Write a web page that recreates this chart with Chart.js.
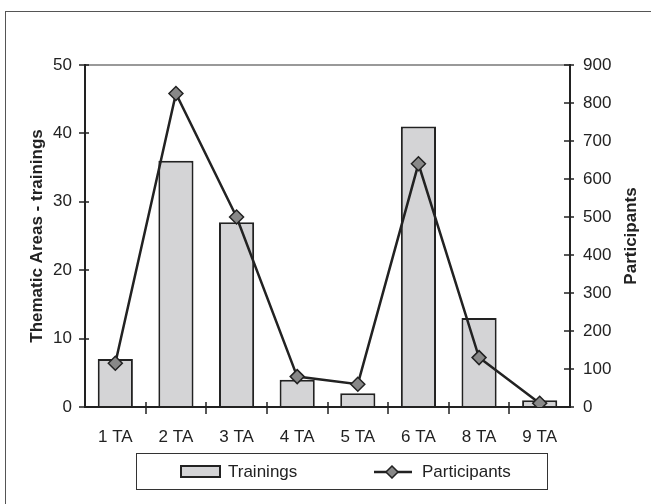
<!DOCTYPE html>
<html>
<head>
<meta charset="utf-8">
<script src="https://cdn.jsdelivr.net/npm/chart.js@4/dist/chart.umd.min.js"></script>
<style>
  html, body { margin: 0; padding: 0; background: #fff; overflow: hidden; }
  #wrap { position: relative; width: 651px; height: 504px; }
  #frame { position: absolute; left: 5px; top: 11px; width: 700px; height: 600px;
           border-left: 1.5px solid #555; border-top: 1.5px solid #555; }
  #c { position: absolute; left: 0; top: 0; }
  #legend { position: absolute; left: 136px; top: 453px; width: 410px; height: 35px;
            border: 1.5px solid #333; font-family: "Liberation Sans", Arial, sans-serif;
            font-size: 17px; color: #222; }
  #legend .item { position: absolute; top: 0; height: 35px; display: flex; align-items: center; }
  #legend .sw { display: inline-block; width: 37px; height: 9px; background: #d4d4d6;
                border: 2px solid #222; margin-right: 7px; }
</style>
</head>
<body>
<div id="wrap">
  <div id="frame"></div>
  <canvas id="c" width="651" height="504"></canvas>
  <div id="legend">
    <div class="item" style="left:43px"><span class="sw"></span>Trainings</div>
    <div class="item" style="left:236px">
      <svg width="40" height="14" style="margin-right:9px">
        <line x1="1" y1="7" x2="39" y2="7" stroke="#222" stroke-width="2.5"/>
        <polygon points="19,1 25,7 19,13 13,7" fill="#888" stroke="#222" stroke-width="1.5"/>
      </svg>Participants
    </div>
  </div>
</div>
<script>
// Thematic areas and their figures
const categories = ['1 TA', '2 TA', '3 TA', '4 TA', '5 TA', '6 TA', '8 TA', '9 TA'];
const trainings = [7, 36, 27, 4, 2, 41, 13, 1];
const participants = [115, 825, 500, 80, 60, 640, 130, 10];

const FONT = '"Liberation Sans", Arial, sans-serif';
const INK = '#222';

// Tick marks that straddle each axis line, plus the right-hand axis title
const axisExtras = {
  id: 'axisExtras',
  afterDraw(chart) {
    const ctx = chart.ctx;
    const { x, y, y1 } = chart.scales;
    ctx.save();
    ctx.strokeStyle = INK;
    ctx.lineWidth = 1.5;
    ctx.beginPath();
    y.ticks.forEach(t => {
      const py = Math.round(y.getPixelForValue(t.value));
      ctx.moveTo(x.left - 6, py); ctx.lineTo(x.left + 4, py);
    });
    y1.ticks.forEach(t => {
      const py = Math.round(y1.getPixelForValue(t.value));
      ctx.moveTo(x.right - 6, py); ctx.lineTo(x.right + 4, py);
    });
    for (let i = 0; i < categories.length - 1; i++) {
      const px = Math.round((x.getPixelForValue(i) + x.getPixelForValue(i + 1)) / 2);
      ctx.moveTo(px, y.bottom - 5); ctx.lineTo(px, y.bottom + 7);
    }
    ctx.stroke();

    // "Participants" reads bottom-to-top like the left title
    ctx.translate(y1.right - 20, (y1.top + y1.bottom) / 2);
    ctx.rotate(-Math.PI / 2);
    ctx.fillStyle = INK;
    ctx.font = 'bold 17px ' + FONT;
    ctx.textAlign = 'center';
    ctx.textBaseline = 'middle';
    ctx.fillText('Participants', 0, 0);
    ctx.restore();
  }
};

new Chart(document.getElementById('c'), {
  data: {
    labels: categories,
    datasets: [
      {
        type: 'line',
        label: 'Participants',
        data: participants,
        yAxisID: 'y1',
        borderColor: INK,
        borderWidth: 2.5,
        pointStyle: 'rectRot',
        pointRadius: 7,
        pointBackgroundColor: '#888',
        pointBorderColor: INK,
        pointBorderWidth: 1.5,
        tension: 0,
        order: 0
      },
      {
        type: 'bar',
        label: 'Trainings',
        data: trainings,
        yAxisID: 'y',
        backgroundColor: '#d4d4d6',
        borderColor: INK,
        borderWidth: 2,
        barPercentage: 0.58,
        categoryPercentage: 1,
        order: 1
      }
    ]
  },
  options: {
    responsive: false,
    animation: false,
    layout: { padding: { top: 65, left: 0, right: 0, bottom: 0 } },
    plugins: { legend: { display: false }, tooltip: { enabled: false } },
    scales: {
      x: {
        type: 'category',
        offset: true,
        grid: { display: false, offset: true },
        border: { display: true, color: INK, width: 2 },
        ticks: { color: INK, font: { family: FONT, size: 17 }, padding: 12, maxRotation: 0 },
        afterFit(s) { s.height = 97; }
      },
      y: {
        position: 'left',
        min: 0, max: 50,
        ticks: { stepSize: 10, color: INK, font: { family: FONT, size: 17 }, padding: 13 },
        grid: {
          drawTicks: false,
          color: c => (c.tick && c.tick.value === 50 ? '#999' : 'rgba(0,0,0,0)'),
          lineWidth: 2
        },
        border: { display: true, color: INK, width: 2 },
        title: {
          display: true, text: 'Thematic Areas - trainings', color: INK,
          font: { family: FONT, size: 17, weight: 'bold' },
          padding: { top: 27, bottom: 0 }
        },
        afterFit(s) { s.width = 85; }
      },
      y1: {
        position: 'right',
        min: 0, max: 900,
        ticks: { stepSize: 100, color: INK, font: { family: FONT, size: 17 }, padding: 13 },
        grid: { drawTicks: false, drawOnChartArea: false },
        border: { display: true, color: INK, width: 2 },
        afterFit(s) { s.width = 81; }
      }
    }
  },
  plugins: [axisExtras]
});
</script>
</body>
</html>
